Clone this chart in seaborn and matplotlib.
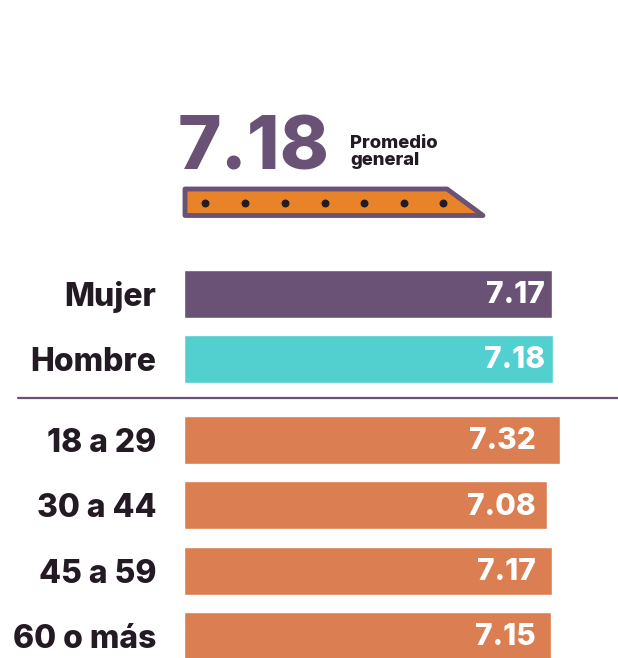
import numpy as np
import pandas as pd
import seaborn as sns
import matplotlib.pyplot as plt
from matplotlib.patches import Polygon
from matplotlib.lines import Line2D

# datos
promedio = 7.18
genero = ['Mujer', 'Hombre']
genero_val = [7.17, 7.18]
edad = ['18 a 29', '30 a 44', '45 a 59', '60 o más']
edad_val = [7.32, 7.08, 7.17, 7.15]

morado = '#6a5176'
turquesa = '#52cfcf'
naranja = '#db7e52'
oscuro = '#231a24'

sns.set_style('white')
plt.rcParams['font.family'] = ['Inter', 'DejaVu Sans']

W, H = 618, 658
fig = plt.figure(figsize=(W / 100, H / 100), dpi=100)

x0 = 184          # pixel where value 0 sits
ppu = 51.33       # pixels per unit
xmax = (W - x0) / ppu


def make_ax(top_px, bot_px):
    return fig.add_axes([x0 / W, 1 - bot_px / H, (W - x0) / W, (bot_px - top_px) / H])


# --- genero ---
ax1 = make_ax(294 - 32.5, 359 + 32.5)
df1 = pd.DataFrame({'cat': genero, 'val': genero_val})
sns.barplot(data=df1, x='val', y='cat', hue='cat', palette=[morado, turquesa],
            width=0.74, legend=False, ax=ax1, saturation=1)
ax1.set_ylim(1.5, -0.5)

# --- edad ---
ax2 = make_ax(440 - 32.67, 636 + 32.67)
df2 = pd.DataFrame({'cat': edad, 'val': edad_val})
sns.barplot(data=df2, x='val', y='cat', color=naranja, width=0.735,
            ax=ax2, saturation=1)
ax2.set_ylim(3.5, -0.5)

for ax, vals, xr in [(ax1, genero_val, 545), (ax2, edad_val, 536)]:
    ax.set_xlim(0, xmax)
    ax.set_xlabel('')
    ax.set_ylabel('')
    ax.set_xticks([])
    sns.despine(ax=ax, left=True, bottom=True)
    ax.tick_params(axis='y', length=0, pad=20, labelsize=23, labelcolor=oscuro)
    for lab in ax.get_yticklabels():
        lab.set_fontweight('heavy')
    for i, v in enumerate(vals):
        ax.text((xr - x0) / ppu, i + 0.02, f'{v:.2f}', ha='right', va='center',
                color='white', fontsize=21.5, fontweight='heavy')

# --- decoraciones en coordenadas de pixel ---
deco = fig.add_axes([0, 0, 1, 1], zorder=-1)
deco.set_xlim(0, W)
deco.set_ylim(H, 0)
deco.axis('off')

deco.add_line(Line2D([18, 618], [398, 398], color=morado, lw=1.6))

deco.text(178, 170, f'{promedio:.2f}', ha='left', va='baseline', fontsize=53.5,
          fontweight='heavy', color=morado)
deco.text(350, 148, 'Promedio', ha='left', va='baseline', fontsize=13.3,
          fontweight='heavy', color=oscuro)
deco.text(350, 165, 'general', ha='left', va='baseline', fontsize=13.3,
          fontweight='heavy', color=oscuro)

icono = Polygon([(185, 189), (447, 189), (483, 215.5), (185, 215.5)], closed=True,
                facecolor='#e8832a', edgecolor=morado, lw=3.5, joinstyle='round')
deco.add_patch(icono)
deco.scatter([205, 245, 285, 325, 364, 404, 443], [203] * 7, s=22, color=oscuro, zorder=3)

fig.savefig('out.png', dpi=100)
